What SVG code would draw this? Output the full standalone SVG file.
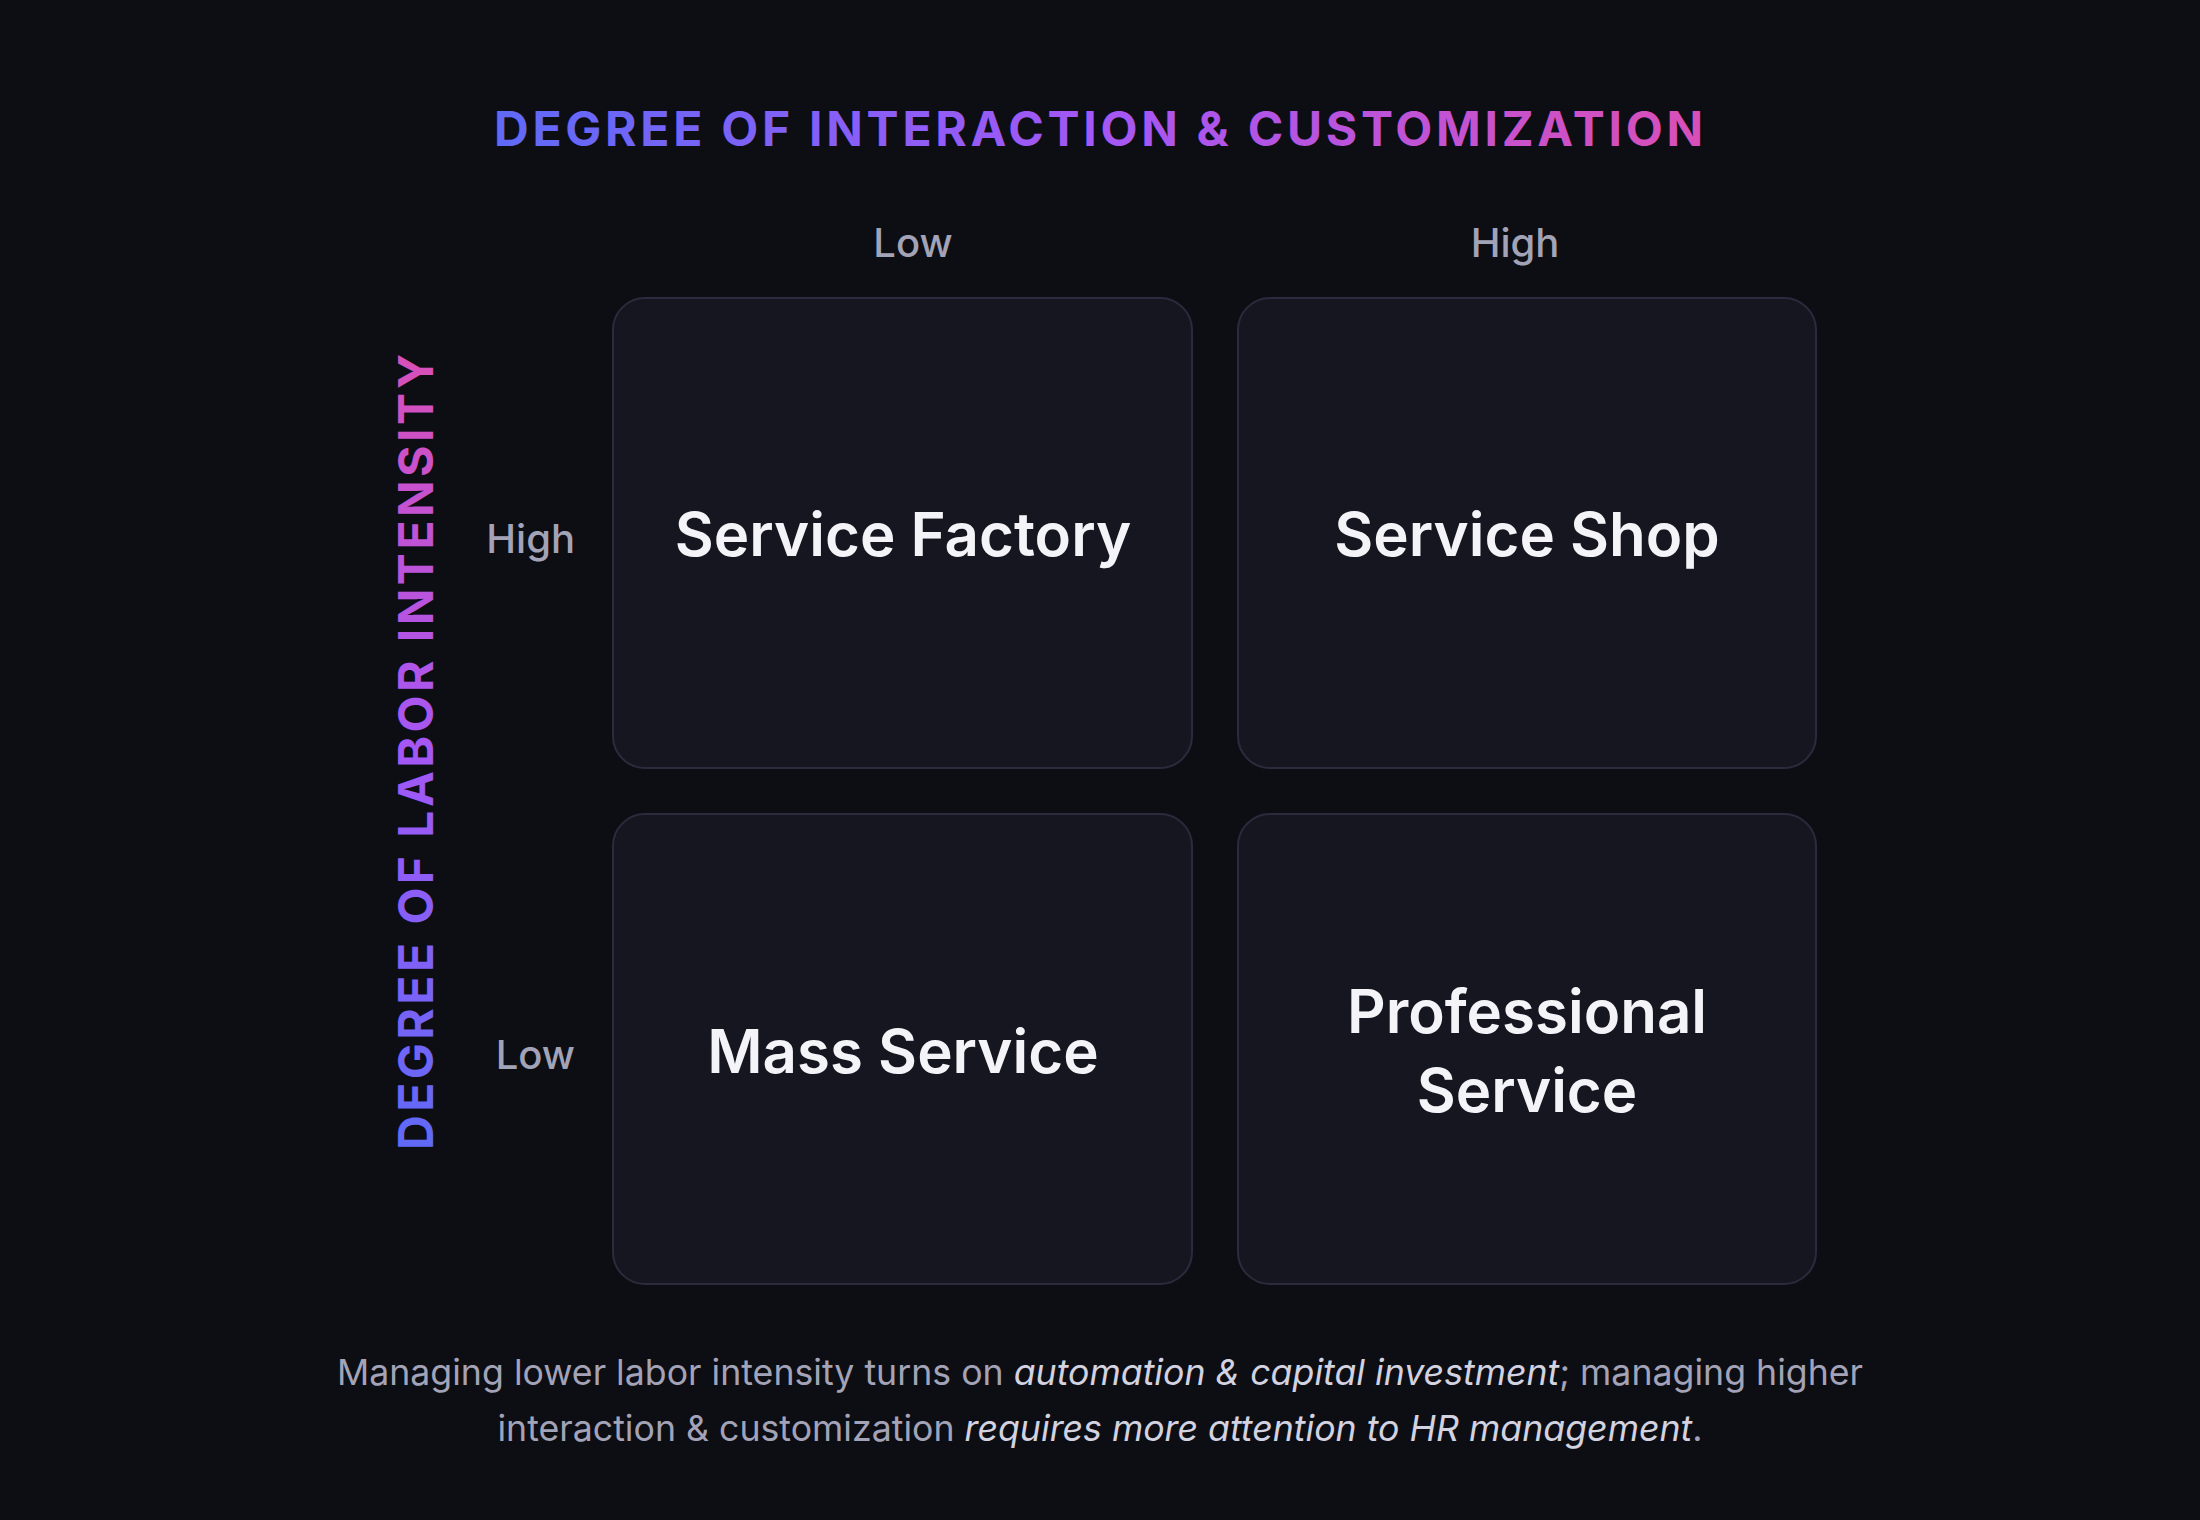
<svg xmlns="http://www.w3.org/2000/svg" width="2200" height="1520" viewBox="0 0 2200 1520">
  <defs>
    <linearGradient id="gTitle" gradientUnits="userSpaceOnUse" x1="494" y1="0" x2="1703" y2="0">
      <stop offset="0" stop-color="#5f6af7"/>
      <stop offset="0.5" stop-color="#a457f5"/>
      <stop offset="1" stop-color="#d94fb8"/>
    </linearGradient>
    <linearGradient id="gSide" gradientUnits="userSpaceOnUse" x1="-398" y1="0" x2="398" y2="0">
      <stop offset="0" stop-color="#5f6af7"/>
      <stop offset="0.5" stop-color="#a457f5"/>
      <stop offset="1" stop-color="#d94fb8"/>
    </linearGradient>
    <style>
      .bg { fill: #0d0e13; }
      .cell { fill: #151620; stroke: #2b2b3d; stroke-width: 2; }
      .axis { font-family: Inter, "Liberation Sans", sans-serif; font-size: 48px; font-weight: 700; }
      .tick { font-family: Inter, "Liberation Sans", sans-serif; font-size: 40px; font-weight: 500; fill: #a3a3b8; }
      .label { font-family: Inter, "Liberation Sans", sans-serif; font-size: 60px; font-weight: 600; fill: #f4f4f8; text-anchor: middle; }
      .cap { font-family: Inter, "Liberation Sans", sans-serif; font-size: 35.7px; font-weight: 400; fill: #a3a3b8; text-anchor: middle; }
      .em { font-style: italic; fill: #d2d2e0; }
    </style>
  </defs>
  <rect class="bg" x="0" y="0" width="2200" height="1520"/>

  <text id="title-x" class="axis" x="494" y="146" fill="url(#gTitle)" textLength="1209" lengthAdjust="spacing">DEGREE OF INTERACTION &amp; CUSTOMIZATION</text>
  <text id="title-y" class="axis" transform="translate(433,752) rotate(-90)" x="-398" y="0" fill="url(#gSide)" textLength="796" lengthAdjust="spacing">DEGREE OF LABOR INTENSITY</text>

  <g id="col-labels">
    <text class="tick" x="913" y="257" text-anchor="middle">Low</text>
    <text class="tick" x="1515" y="257" text-anchor="middle">High</text>
  </g>
  <g id="row-labels">
    <text class="tick" x="575" y="553" text-anchor="end">High</text>
    <text class="tick" x="575" y="1069" text-anchor="end">Low</text>
  </g>

  <g id="connectors"></g>

  <g id="service-factory">
    <rect class="cell" x="613" y="298" width="579" height="470" rx="32"/>
    <text class="label" x="903" y="556">Service Factory</text>
  </g>
  <g id="service-shop">
    <rect class="cell" x="1238" y="298" width="578" height="470" rx="32"/>
    <text class="label" x="1527" y="556">Service Shop</text>
  </g>
  <g id="mass-service">
    <rect class="cell" x="613" y="814" width="579" height="470" rx="32"/>
    <text class="label" x="903" y="1073">Mass Service</text>
  </g>
  <g id="professional-service">
    <rect class="cell" x="1238" y="814" width="578" height="470" rx="32"/>
    <text class="label" x="1527" y="1033">Professional</text>
    <text class="label" x="1527" y="1112">Service</text>
  </g>

  <g id="caption">
    <text class="cap" x="1100" y="1385">Managing lower labor intensity turns on <tspan class="em">automation &amp; capital investment</tspan>; managing higher</text>
    <text class="cap" x="1100" y="1441">interaction &amp; customization <tspan class="em">requires more attention to HR management</tspan>.</text>
  </g>
</svg>
